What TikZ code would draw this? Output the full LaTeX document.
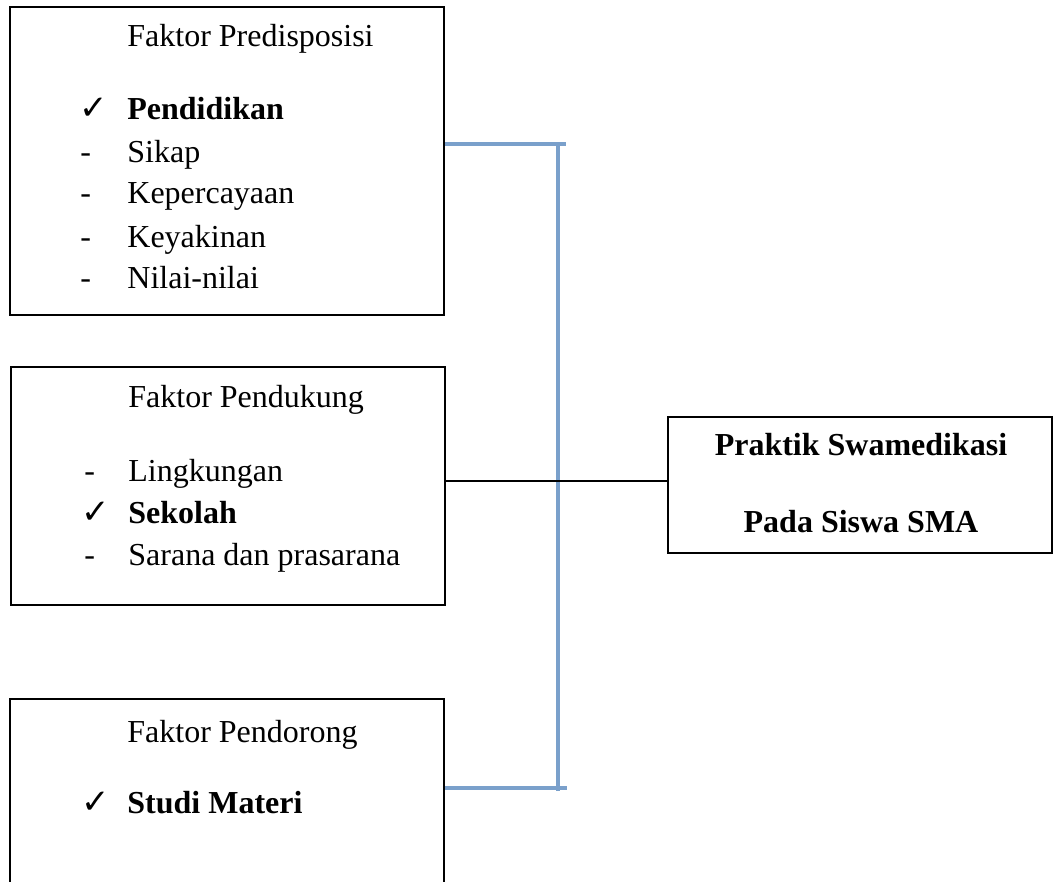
\documentclass[tikz,border=0pt]{standalone}
\usepackage{fontspec}
\setmainfont{Liberation Serif}
\newfontfamily\symfont{DejaVu Sans}
\definecolor{linkblue}{RGB}{122,160,203}
\tikzset{
  faktor/.style={draw,line width=1pt,inner sep=0pt},
  entry/.style={anchor=base west,inner sep=0pt,font=\fontsize{16}{19}\selectfont},
  bluelink/.style={draw=linkblue,line width=1.6pt},
}
\newcommand{\tick}{{\symfont\fontsize{17}{19}\selectfont ✓}}
\newcommand{\dashitem}{-}

\begin{document}
\begin{tikzpicture}[x=0.5pt,y=-0.5pt]
                \useasboundingbox (0,0) rectangle (1054,882);
                \clip (0,0) rectangle (1054,882);
                % boxes
                \node[faktor,minimum width=217pt,minimum height=154pt] (predis) at (227,161) {};
                \node[faktor,minimum width=217pt,minimum height=119pt] (dukung) at (228,486) {};
                \node[faktor,minimum width=217pt,minimum height=100pt] (dorong) at (227,799) {};
                \node[faktor,minimum width=192pt,minimum height=68pt] (praktik) at (860,485) {};
                % faktor predisposisi
                \node[entry] (predisT) at (127,47) {Faktor Predisposisi};
                \node[entry] (predisA) at (79,120) {\tick};
                \node[entry] (predisAt) at (127,120) {\textbf{Pendidikan}};
                \node[entry] (predisB) at (80,163) {\dashitem};
                \node[entry] (predisBt) at (127,163) {Sikap};
                \node[entry] (predisC) at (80,204) {\dashitem};
                \node[entry] (predisCt) at (127,204) {Kepercayaan};
                \node[entry] (predisD) at (80,248) {\dashitem};
                \node[entry] (predisDt) at (127,248) {Keyakinan};
                \node[entry] (predisE) at (80,288) {\dashitem};
                \node[entry] (predisEt) at (127,288) {Nilai-nilai};
                % faktor pendukung
                \node[entry] (dukungT) at (128,407) {Faktor Pendukung};
                \node[entry] (dukungA) at (84,481) {\dashitem};
                \node[entry] (dukungAt) at (128,481) {Lingkungan};
                \node[entry] (dukungB) at (81,523) {\tick};
                \node[entry] (dukungBt) at (128,523) {\textbf{Sekolah}};
                \node[entry] (dukungC) at (84,565) {\dashitem};
                \node[entry] (dukungCt) at (128,565) {Sarana dan prasarana};
                % faktor pendorong
                \node[entry] (dorongT) at (127,742) {Faktor Pendorong};
                \node[entry] (dorongA) at (81,813) {\tick};
                \node[entry] (dorongAt) at (127,813) {\textbf{Studi Materi}};
                % praktik
                \node[entry,anchor=base] (praktikA) at (861,455) {\textbf{Praktik Swamedikasi}};
                \node[entry,anchor=base] (praktikB) at (861,532) {\textbf{Pada Siswa SMA}};
                % connectors
                \coordinate (topend) at (566,144);
                \coordinate (botend) at (567,788);
                \coordinate (vtop) at (558,144);
                \coordinate (vbot) at (558,791);
                \coordinate (mid) at (0,481);
                \draw[bluelink] (predis.east |- topend) -- (topend);
                \draw[bluelink] (vtop) -- (vbot);
                \draw[bluelink] (dorong.east |- botend) -- (botend);
                \draw[line width=1pt] (dukung.east |- mid) -- (praktik.west |- mid);
\end{tikzpicture}
\end{document}
